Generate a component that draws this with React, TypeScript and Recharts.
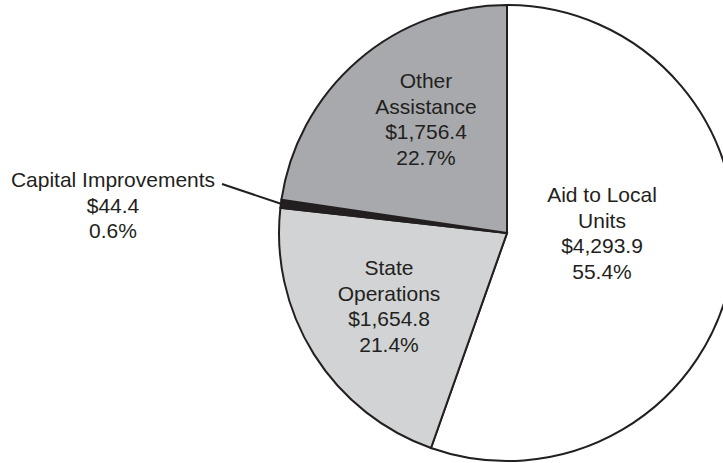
import React from "react";
import { PieChart, Pie, Cell } from "recharts";

const categories = ["Aid to Local Units", "State Operations", "Capital Improvements", "Other Assistance"];
const amounts = [4293.9, 1654.8, 44.4, 1756.4];
const amountLabels = ["$4,293.9", "$1,654.8", "$44.4", "$1,756.4"];
const percentLabels = ["55.4%", "21.4%", "0.6%", "22.7%"];
const nameLines = [["Aid to Local", "Units"], ["State", "Operations"], ["Capital Improvements"], ["Other", "Assistance"]];

const colors = ["#ffffff", "#d1d3d4", "#231f20", "#a7a9ac"];
// label block offsets (from pie center) for first baseline
const labelOffsets = [
  { dx: 95, dy: -31 },
  { dx: -118, dy: 42 },
  { dx: -394, dy: -46 },
  { dx: -81, dy: -145 },
];

const data = categories.map((c, i) => ({
  name: c,
  value: amounts[i],
  amount: amountLabels[i],
  pct: percentLabels[i],
  lines: nameLines[i],
}));

const RAD = Math.PI / 180;
const FONT = "'Liberation Sans', Arial, Helvetica, sans-serif";
const LINE_H = 25.7;

const renderLabel = (props: any) => {
  const { cx, cy, index, midAngle, outerRadius } = props;
  const d = data[index];
  const off = labelOffsets[index];
  const x = cx + off.dx;
  const y = cy + off.dy;
  const lines = [...d.lines, d.amount, d.pct];
  const text = (
    <text
      key={"t" + index}
      x={x}
      y={y}
      textAnchor="middle"
      fontFamily={FONT}
      fontSize={21}
      fill="#231f20"
    >
      {lines.map((l: string, i: number) => (
        <tspan key={i} x={x} dy={i === 0 ? 0 : LINE_H}>
          {l}
        </tspan>
      ))}
    </text>
  );
  if (index === 2) {
    const px = cx + outerRadius * Math.cos(-midAngle * RAD);
    const py = cy + outerRadius * Math.sin(-midAngle * RAD);
    return (
      <g key={"g" + index}>
        <line x1={x + 109} y1={y - 3} x2={px} y2={py} stroke="#231f20" strokeWidth={2} />
        {text}
      </g>
    );
  }
  return <g key={"g" + index}>{text}</g>;
};

export default function App() {
  return (
    <div style={{ position: "absolute", left: 0, top: 0, width: 723, height: 463, overflow: "hidden", background: "#fff" }}>
      <PieChart width={723} height={463} margin={{ top: 0, right: 0, bottom: 0, left: 0 }}>
        <Pie
          data={data}
          dataKey="value"
          nameKey="name"
          cx={507}
          cy={233}
          outerRadius={228}
          innerRadius={0}
          startAngle={90}
          endAngle={-270}
          stroke="#231f20"
          strokeWidth={2}
          label={renderLabel}
          labelLine={false}
          isAnimationActive={false}
        >
          {data.map((d, i) => (
            <Cell key={d.name} fill={colors[i]} />
          ))}
        </Pie>
      </PieChart>
    </div>
  );
}
